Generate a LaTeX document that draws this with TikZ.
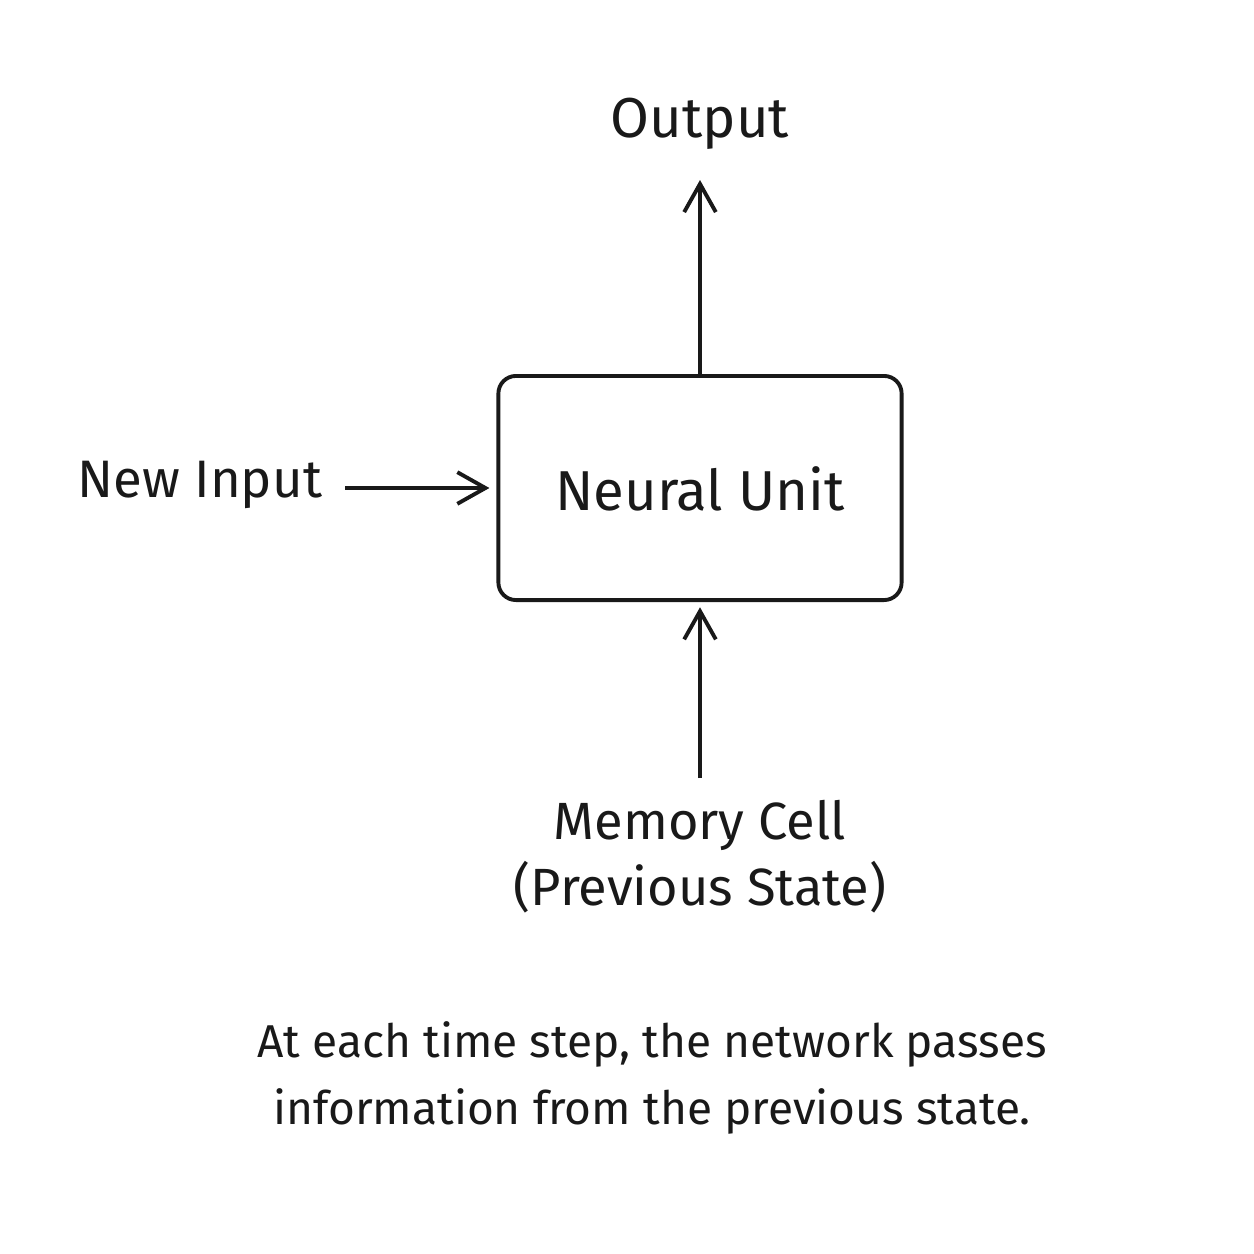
\documentclass[tikz,border=0pt]{standalone}
\usepackage{fontspec}
\setmainfont{Fira Sans}
\usetikzlibrary{arrows.meta}
\definecolor{ink}{RGB}{25,25,25}
\begin{document}
\begin{tikzpicture}[x=0.01cm,y=-0.01cm,
  line width=1.1pt, draw=ink,
  txt/.style={inner sep=0pt, text=ink},
  big/.style={txt, font=\fontsize{16}{20}\selectfont},
  notetxt/.style={txt, font=\fontsize{13.1}{19}\selectfont, align=center},
  arr/.style={-{Straight Barb[length=8pt,width=9pt,line width=1.1pt]}}]
\useasboundingbox (0,0) rectangle (1254,1254);
\node[draw, rounded corners=5pt, inner sep=0pt, minimum width=4.03cm, minimum height=2.24cm] (unit) at (700,488) {};
\node[big] (label) at (700,489) {Neural Unit};
\node[big] (out) at (700,124) {Output};
\node[big, font=\fontsize{15}{20}\selectfont] (in) at (200,485) {New Input};
\node[big, align=center, font=\fontsize{14.9}{18.8}\selectfont] (mem) at (700,857) {Memory Cell\\(Previous State)};
\node[notetxt] (note) at (652,1078) {At each time step, the network passes\\information from the previous state.};
\coordinate (outend) at (700,180);
\coordinate (inst) at (345,488);
\coordinate (memst) at (700,778);
\draw[arr] (unit.north) -- (outend);
\draw[arr] (inst) -- ([xshift=-2pt]unit.west |- inst);
\draw[arr] (memst) -- ([yshift=-1.5pt]unit.south);
\end{tikzpicture}
\end{document}
